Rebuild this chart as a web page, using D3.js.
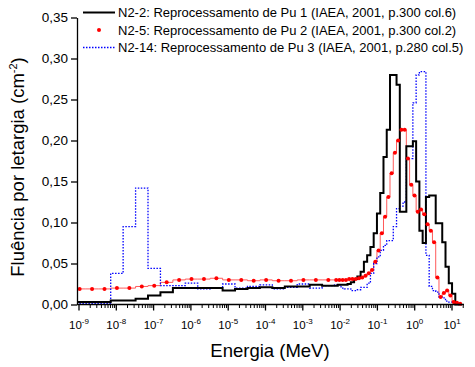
<!DOCTYPE html>
<html><head><meta charset="utf-8">
<script src="https://cdn.jsdelivr.net/npm/d3@7"></script>
<style>body{margin:0;background:#fff} svg{display:block} text{font-family:Arial,"Liberation Sans",sans-serif;fill:#000}</style>
</head><body><svg id="c" width="475" height="367"></svg>
<script>
// 60-group energy boundaries (MeV)
const edges = [7.08e-10,1.525e-9,3.29e-9,7.08e-9,1.525e-8,3.29e-8,7.08e-8,1.525e-7,3.29e-7,7.08e-7,
  1.525e-6,3.29e-6,7.08e-6,1.525e-5,3.29e-5,7.08e-5,1.525e-4,3.29e-4,7.08e-4,1.525e-3,3.29e-3,7.08e-3,
  8.66e-3,1.059e-2,1.297e-2,1.585e-2,1.94e-2,2.373e-2,2.904e-2,3.55e-2,4.345e-2,5.31e-2,6.5e-2,7.95e-2,9.725e-2,
  0.119,0.1456,0.178,0.2178,0.2664,0.326,0.3988,0.4878,0.5967,0.7298,0.8928,1.092,1.336,1.634,1.999,2.445,
  2.991,3.659,4.477,5.476,6.699,8.196,10.03,12.26,15.0,18.35];

// N2-2 (black, solid)
const n22 = [0.003,0.003,0.003,0.005,0.005,0.007,0.011,0.015,0.020,0.020,0.020,0.020,0.017,0.019,0.020,0.021,0.020,0.022,0.022,0.024,0.023,
  0.023,0.024,0.024,0.024,0.025,0.027,0.031,0.034,0.040,0.052,0.060,0.070,0.087,0.111,0.136,0.180,0.213,0.280,0.280,0.268,
  0.113,0.113,0.193,0.193,0.199,0.150,0.090,0.075,0.131,0.133,0.133,0.099,0.099,0.076,0.046,0.026,0.013,0,0];
// N2-5 (red, points)
const n25 = [0.019,0.019,0.019,0.020,0.020,0.022,0.023,0.027,0.030,0.031,0.031,0.032,0.030,0.030,0.029,0.030,0.029,0.029,0.030,0.030,0.030,
  0.030,0.030,0.030,0.030,0.031,0.031,0.031,0.032,0.033,0.035,0.038,0.042,0.052,0.066,0.087,0.107,0.131,0.160,0.185,0.200,
  0.213,0.213,0.178,0.146,0.133,0.113,0.116,0.110,0.098,0.090,0.076,0.033,0.009,0.014,0.017,0.011,0.003,0.002,0.001];
// N2-14 (blue, dotted)
const n214 = [0.001,0.001,0.001,0.038,0.095,0.142,0.044,0.023,0.023,0.026,0.019,0.020,0.025,0.020,0.022,0.024,0.019,0.021,0.025,0.020,0.023,
  0.024,0.024,0.020,0.019,0.019,0.017,0.017,0.018,0.021,0.021,0.026,0.038,0.050,0.058,0.066,0.072,0.078,0.078,0.095,0.117,
  0.120,0.125,0.178,0.178,0.246,0.280,0.284,0.284,0.060,0.022,0.017,0.015,0.009,0.008,0.004,0.003,0.002,0.001,0];

const legendLabels = ["N2-2: Reprocessamento de Pu 1 (IAEA, 2001, p.300 col.6)",
  "N2-5: Reprocessamento de Pu 2 (IAEA, 2001, p.300 col.2)",
  "N2-14: Reprocessamento de Pu 3 (IAEA, 2001, p.280 col.5)"];
const yTicks = [0,0.05,0.10,0.15,0.20,0.25,0.30,0.35];
const xExponents = [-9,-8,-7,-6,-5,-4,-3,-2,-1,0,1];
const xTitle = "Energia (MeV)";
const yTitle = "Fluência por letargia (cm";

const svg = d3.select("#c");
const L = 77, R = 464;
const x0 = d3.scaleLog().domain([1e-9,10]).range([79,452]);
const x = d3.scaleLog().domain([x0.invert(L), x0.invert(R)]).range([L,R]);
const y = d3.scaleLinear().domain([0,0.35]).range([304.5,17.5]);

svg.append("defs").append("clipPath").attr("id","clip")
  .append("rect").attr("x",L).attr("y",0).attr("width",R-L).attr("height",306);

function stepPts(vals){
  const pts = vals.map((v,i)=>[edges[i],v]);
  pts.push([edges[vals.length], vals[vals.length-1]]);
  return pts;
}
const line = d3.line().x(d=>x(d[0])).y(d=>y(d[1])).curve(d3.curveStepAfter);
const g = svg.append("g").attr("clip-path","url(#clip)");

// red step line + dots
g.append("path").attr("d", line(stepPts(n25))).attr("fill","none")
  .attr("stroke","#ff5a5a").attr("stroke-width",1);
// blue dotted
g.append("path").attr("d", line(stepPts(n214))).attr("fill","none")
  .attr("stroke","#0000ff").attr("stroke-width",1.3).attr("stroke-dasharray","1.5,1.5");
// black
g.append("path").attr("d", line(stepPts(n22))).attr("fill","none")
  .attr("stroke","#000").attr("stroke-width",2);
g.selectAll("circle.r").data(n25).enter().append("circle")
  .attr("cx",(d,i)=>x(Math.sqrt(edges[i]*edges[i+1])))
  .attr("cy",d=>y(d)).attr("r",2).attr("fill","#ff0000");

// axes
const ya = d3.axisLeft(y).tickValues(yTicks).tickSize(6).tickSizeOuter(0).tickPadding(3)
  .tickFormat(d=>d.toFixed(2).replace(".",","));
const yg = svg.append("g").attr("transform",`translate(${L},0)`).call(ya);
yg.selectAll("text").style("font-size","13.5px");
yg.selectAll("line,path").attr("stroke","#000").attr("stroke-width",1.3);

const minor = [];
xExponents.forEach(e=>{ for(let m=2;m<=9;m++){ const v=m*Math.pow(10,e); if(x(v)<=R) minor.push(v);} });
const xg = svg.append("g");
xg.append("line").attr("x1",L).attr("x2",R).attr("y1",y(0)).attr("y2",y(0)).attr("stroke","#000").attr("stroke-width",1.3);
xg.selectAll("line.mi").data(minor).enter().append("line")
  .attr("x1",d=>x(d)).attr("x2",d=>x(d)).attr("y1",y(0)).attr("y2",y(0)+3.5).attr("stroke","#000").attr("stroke-width",1);
xg.selectAll("line.ma").data(xExponents).enter().append("line")
  .attr("x1",d=>x(Math.pow(10,d))).attr("x2",d=>x(Math.pow(10,d))).attr("y1",y(0)).attr("y2",y(0)+6).attr("stroke","#000").attr("stroke-width",1.3);
const xl = xg.selectAll("text.xl").data(xExponents).enter().append("text")
  .attr("x",d=>x(Math.pow(10,d))).attr("y",329).attr("text-anchor","middle").style("font-size","11.5px");
xl.append("tspan").text("10");
xl.append("tspan").attr("dy",-5).style("font-size","8px").text(d=>String(d));

// titles
svg.append("text").attr("x",270).attr("y",357).attr("text-anchor","middle").style("font-size","18.5px").text(xTitle);
const yt = svg.append("text").attr("transform","translate(24,167) rotate(-90)").attr("text-anchor","middle").style("font-size","18.5px");
yt.append("tspan").text(yTitle);
yt.append("tspan").attr("dy",-7).style("font-size","11px").text("-2");
yt.append("tspan").attr("dy",7).text(")");

// legend
const ly = [12.5,30,47.5];
const lg = svg.append("g");
lg.append("line").attr("x1",83).attr("x2",115).attr("y1",ly[0]).attr("y2",ly[0]).attr("stroke","#000").attr("stroke-width",2);
lg.append("circle").attr("cx",99).attr("cy",ly[1]).attr("r",2).attr("fill","#ff0000");
lg.append("line").attr("x1",83).attr("x2",115).attr("y1",ly[2]).attr("y2",ly[2]).attr("stroke","#0000ff").attr("stroke-width",1.3).attr("stroke-dasharray","1.5,1.5");
lg.selectAll("text").data(legendLabels).enter().append("text")
  .attr("x",118).attr("y",(d,i)=>ly[i]+4.6).style("font-size","13px").text(d=>d);
</script></body></html>
